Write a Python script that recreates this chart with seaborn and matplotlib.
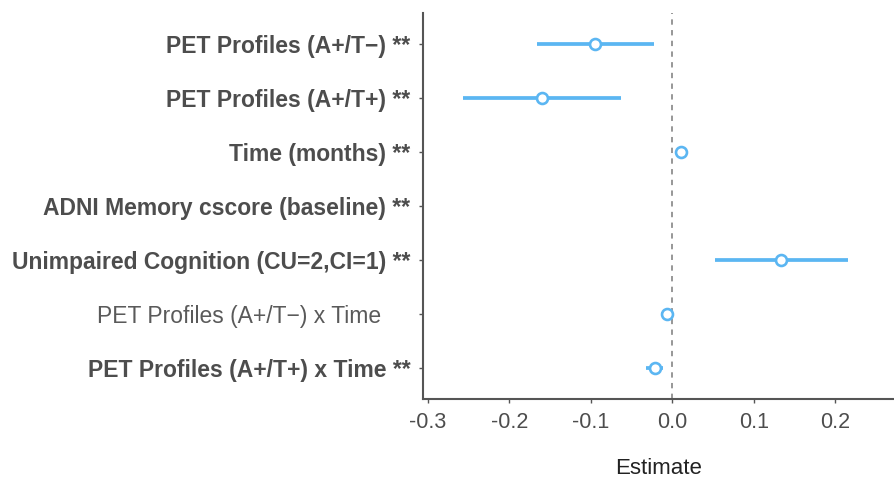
import numpy as np
import pandas as pd
import matplotlib
matplotlib.use("Agg")
import matplotlib.pyplot as plt
import seaborn as sns

# Model terms, top to bottom
terms = [
    "PET Profiles (A+/T\u2212) **",
    "PET Profiles (A+/T+) **",
    "Time (months) **",
    "ADNI Memory cscore (baseline) **",
    "Unimpaired Cognition (CU=2,CI=1) **",
    "PET Profiles (A+/T\u2212) x Time\u2002\u2002 ",
    "PET Profiles (A+/T+) x Time **",
]
estimate = [-0.095, -0.160, 0.010, np.nan, 0.133, -0.007, -0.022]
ci_low = [-0.166, -0.257, 0.008, np.nan, 0.052, -0.014, -0.032]
ci_high = [-0.023, -0.063, 0.012, np.nan, 0.215, -0.001, -0.012]
significant = [True, True, True, True, True, False, True]
x_ticks = [-0.3, -0.2, -0.1, 0.0, 0.1, 0.2]

df = pd.DataFrame({"term": terms, "estimate": estimate,
                   "low": ci_low, "high": ci_high})
df["pos"] = np.arange(len(df))

sns.set_theme(style="ticks")
plt.rcParams["font.family"] = ["Liberation Sans", "DejaVu Sans"]

blue = "#5BB6F2"
text_grey = "#4D4D4D"

fig = plt.figure(figsize=(8.95, 4.78), dpi=100)
ax = fig.add_axes([0.4726, 0.165, 0.5274, 0.8085])

ax.axvline(0, color="#7A7A7A", lw=1.1, ls=(0, (3.5, 3.5)), zorder=1)
ax.hlines(df["pos"], df["low"], df["high"], color=blue, lw=2.7, zorder=2)
sns.scatterplot(data=df, x="estimate", y="pos", ax=ax, marker="o", s=62,
                facecolor="white", edgecolor=blue, linewidth=1.9, zorder=3,
                legend=False)

ax.set_xlim(-0.306, 0.273)
ax.set_ylim(len(df) - 1 + 0.58, -0.58)
ax.set_yticks(df["pos"])
ax.set_yticklabels(terms)
for lab, sig in zip(ax.get_yticklabels(), significant):
    lab.set_fontweight("bold" if sig else "normal")
    lab.set_fontsize(16.5)
    lab.set_color(text_grey if sig else "#5A5A5A")

ax.set_xticks(x_ticks)
ax.set_xticklabels([f"{t:.1f}" for t in x_ticks], fontsize=15.5, color=text_grey)
ax.set_xlabel("Estimate", fontsize=16, color="#222222", labelpad=18)
ax.set_ylabel("")

ax.tick_params(axis="both", length=3, width=1, color="#555555", pad=6)
for side in ["top", "right"]:
    ax.spines[side].set_visible(False)
for side in ["left", "bottom"]:
    ax.spines[side].set_color("#555555")
    ax.spines[side].set_linewidth(1.5)

fig.savefig("out.png", dpi=100)
